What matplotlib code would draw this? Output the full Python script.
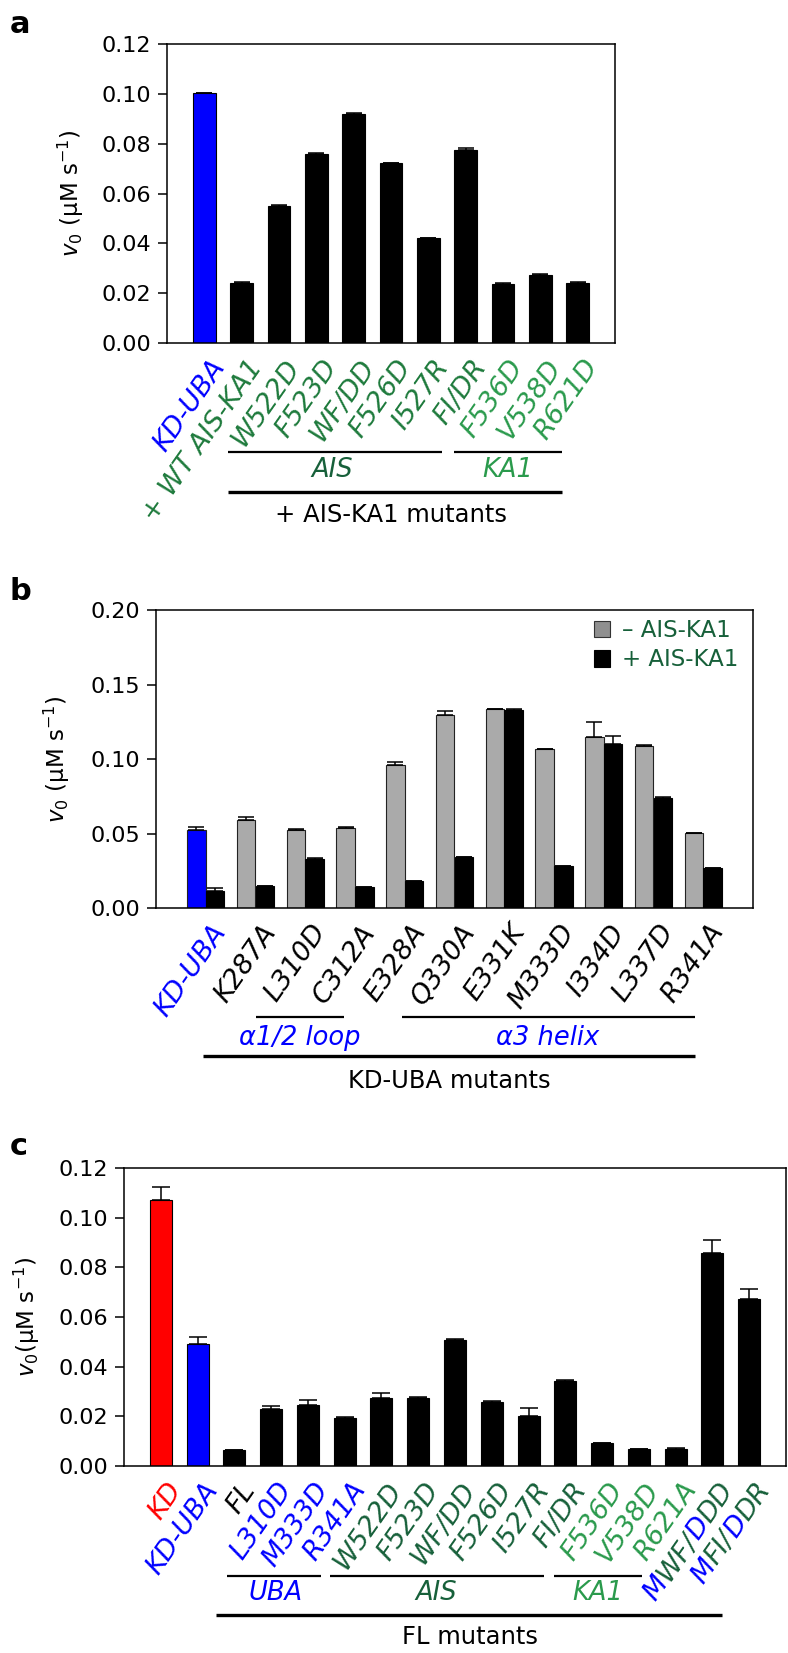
"""Kinase activity bar charts, panels a-c."""
import numpy as np
import matplotlib
matplotlib.use("Agg")
from matplotlib import pyplot as plt
from matplotlib import transforms as mtransforms
from matplotlib.font_manager import FontProperties
from matplotlib.patches import Patch
from matplotlib.ticker import FormatStrFormatter

BLUE = "#0000ff"
RED = "#ff0000"
GREEN_D = "#17603a"
GREEN_A = "#1e7a3c"
GREEN_L = "#2a9a4c"
GRAY = "#aaaaaa"

# ---------------- data ----------------
# panel a
a_labels = [[("KD-UBA", BLUE)], [("+ WT AIS-KA1", GREEN_A)],
            [("W522D", GREEN_A)], [("F523D", GREEN_A)], [("WF/DD", GREEN_A)],
            [("F526D", GREEN_A)], [("I527R", GREEN_A)], [("FI/DR", GREEN_A)],
            [("F536D", GREEN_L)], [("V538D", GREEN_L)], [("R621D", GREEN_L)]]
a_values = [0.1002, 0.0240, 0.0550, 0.0758, 0.0918, 0.0721, 0.0420, 0.0774, 0.0237, 0.0273, 0.0240]
a_errors = [0.0003, 0.0003, 0.0003, 0.0003, 0.0005, 0.0002, 0.0003, 0.0010, 0.0002, 0.0003, 0.0003]
a_colors = [BLUE] + ["black"] * 10

# panel b
b_labels = [[("KD-UBA", BLUE)], [("K287A", "black")], [("L310D", "black")], [("C312A", "black")],
            [("E328A", "black")], [("Q330A", "black")], [("E331K", "black")], [("M333D", "black")],
            [("I334D", "black")], [("L337D", "black")], [("R341A", "black")]]
b_minus = [0.0525, 0.0588, 0.0525, 0.0539, 0.0963, 0.1298, 0.1334, 0.1066, 0.1146, 0.1086, 0.0503]
b_minus_err = [0.0018, 0.0022, 0.0003, 0.0003, 0.0020, 0.0022, 0.0003, 0.0003, 0.0099, 0.0011, 0.0003]
b_plus = [0.0114, 0.0145, 0.0331, 0.0141, 0.0179, 0.0342, 0.1330, 0.0279, 0.1102, 0.0740, 0.0268]
b_plus_err = [0.0018, 0.0002, 0.0002, 0.0002, 0.0003, 0.0002, 0.0003, 0.0002, 0.0054, 0.0002, 0.0003]
b_minus_colors = [BLUE] + [GRAY] * 10
b_legend = ["\u2013 AIS-KA1", "+ AIS-KA1"]

# panel c
c_labels = [[("KD", RED)], [("KD-UBA", BLUE)], [("FL", "black")],
            [("L310D", BLUE)], [("M333D", BLUE)], [("R341A", BLUE)],
            [("W522D", GREEN_D)], [("F523D", GREEN_D)], [("WF/DD", GREEN_D)],
            [("F526D", GREEN_D)], [("I527R", GREEN_D)], [("FI/DR", GREEN_D)],
            [("F536D", GREEN_L)], [("V538D", GREEN_L)], [("R621A", GREEN_L)],
            [("M", BLUE), ("WF/", GREEN_D), ("D", BLUE), ("DD", GREEN_D)],
            [("M", BLUE), ("FI/", GREEN_D), ("D", BLUE), ("DR", GREEN_D)]]
c_values = [0.1071, 0.0490, 0.0063, 0.0228, 0.0247, 0.0195, 0.0273, 0.0275, 0.0506,
            0.0259, 0.0201, 0.0344, 0.0091, 0.0067, 0.0070, 0.0857, 0.0671]
c_errors = [0.0054, 0.0031, 0.0002, 0.0014, 0.0019, 0.0002, 0.0020, 0.0003, 0.0007,
            0.0002, 0.0034, 0.0003, 0.0002, 0.0002, 0.0002, 0.0053, 0.0041]
c_colors = [RED, BLUE] + ["black"] * 15

# ---------------- figure ----------------
W, H = 788, 1653
fig = plt.figure(figsize=(W / 100, H / 100), dpi=100)

LABEL_SIZE = 19.5
GROUP_SIZE = 18.5
TITLE_SIZE = 17.5


def make_axes(left, right, top, bottom):
    return fig.add_axes([left / W, 1 - bottom / H, (right - left) / W, (bottom - top) / H])


def style_axes(ax, ymax, step, n, label, label_x):
    ax.set_ylim(0, ymax)
    ax.set_xlim(-1, n)
    ax.set_yticks(np.arange(0, ymax + step / 2, step))
    ax.yaxis.set_major_formatter(FormatStrFormatter("%.2f"))
    ax.set_xticks([])
    ax.tick_params(axis="y", direction="out", length=6.5, width=1.1, labelsize=16, pad=5)
    for sp in ax.spines.values():
        sp.set_linewidth(1.1)
    ax.set_ylabel(label, fontsize=16.5)
    ax.yaxis.set_label_coords(label_x, 0.5)


def rotated_label(ax, x, chunks, size=LABEL_SIZE, angle=55, dx=5, dy=-12):
    renderer = fig.canvas.get_renderer()
    prop = FontProperties(size=size, style="italic")
    widths = [renderer.get_text_width_height_descent(t, prop, ismath=False)[0] for t, _ in chunks]
    total = sum(widths)
    c, s = np.cos(np.radians(angle)), np.sin(np.radians(angle))
    base = mtransforms.blended_transform_factory(ax.transData, ax.transAxes)
    end = 0
    for (t, col), w in zip(chunks, widths):
        end += w
        back = total - end
        tr = mtransforms.offset_copy(base, fig=fig, x=dx - back * c, y=dy - back * s, units="dots")
        ax.text(x, 0, t, transform=tr, rotation=angle, rotation_mode="anchor",
                ha="right", va="top", color=col, fontproperties=prop, clip_on=False)


def bracket(ax, x0, x1, y, lw=1.6):
    tr = mtransforms.blended_transform_factory(ax.transData, ax.transAxes)
    ax.plot([x0, x1], [y, y], transform=tr, color="black", lw=lw, clip_on=False,
            solid_capstyle="butt")


def group_text(ax, x, y, s, color, italic=True, size=GROUP_SIZE):
    tr = mtransforms.blended_transform_factory(ax.transData, ax.transAxes)
    ax.text(x, y, s, transform=tr, ha="center", va="center", color=color, fontsize=size,
            style="italic" if italic else "normal", clip_on=False)


ylab = r"$v_0$ (μM s$^{-1}$)"

# ---- panel a ----
ax_a = make_axes(167, 615, 44, 343)
xa = np.arange(len(a_values))
ax_a.bar(xa, a_values, width=0.61, color=a_colors, edgecolor="black", linewidth=0.8, zorder=2)
ax_a.errorbar(xa, a_values, yerr=[np.zeros(len(a_values)), a_errors], fmt="none", ecolor="black",
              elinewidth=1.1, capsize=6, capthick=1.1, zorder=3)
style_axes(ax_a, 0.12, 0.02, len(a_values), ylab, -0.181)
for i, chunks in enumerate(a_labels):
    rotated_label(ax_a, i, chunks)
bracket(ax_a, 0.63, 6.37, -0.366)
bracket(ax_a, 6.69, 9.58, -0.366)
group_text(ax_a, 3.42, -0.425, "AIS", GREEN_D)
group_text(ax_a, 8.14, -0.425, "KA1", GREEN_L)
bracket(ax_a, 0.63, 9.58, -0.497, lw=2.4)
group_text(ax_a, 5.0, -0.575, "+ AIS-KA1 mutants", "black", italic=False, size=TITLE_SIZE)
ax_a.set_xlim(-1, len(a_values))
ax_a.set_ylim(0, 0.12)

# ---- panel b ----
ax_b = make_axes(156, 753, 610, 908)
xb = np.arange(len(b_minus))
off = 0.19
ax_b.bar(xb - off, b_minus, width=0.37, color=b_minus_colors, edgecolor="#222222", linewidth=0.8, zorder=2)
ax_b.bar(xb + off, b_plus, width=0.37, color="black", edgecolor="black", linewidth=0.8, zorder=2)
ax_b.errorbar(xb - off, b_minus, yerr=[np.zeros(len(b_minus)), b_minus_err], fmt="none", ecolor="black",
              elinewidth=1.1, capsize=5.5, capthick=1.1, zorder=3)
ax_b.errorbar(xb + off, b_plus, yerr=[np.zeros(len(b_plus)), b_plus_err], fmt="none", ecolor="black",
              elinewidth=1.1, capsize=5.5, capthick=1.1, zorder=3)
style_axes(ax_b, 0.20, 0.05, len(b_minus), ylab, -0.141)
handles = [Patch(facecolor="#8f8f8f", edgecolor="#333333", linewidth=0.8),
           Patch(facecolor="black", edgecolor="black", linewidth=0.8)]
ax_b.legend(handles, b_legend, loc="upper right", bbox_to_anchor=(1 - 15 / 597, 1 - 9 / 298),
            frameon=False, fontsize=16.5, labelcolor=GREEN_D, handlelength=0.72, handleheight=0.72,
            handletextpad=0.5, borderpad=0, borderaxespad=0, labelspacing=0.28)
for i, chunks in enumerate(b_labels):
    rotated_label(ax_b, i, chunks)
bracket(ax_b, 1.01, 2.77, -0.365)
bracket(ax_b, 3.94, 9.84, -0.365)
group_text(ax_b, 1.89, -0.436, "α1/2 loop", BLUE)
group_text(ax_b, 6.87, -0.436, "α3 helix", BLUE)
bracket(ax_b, -0.055, 9.84, -0.497, lw=2.4)
group_text(ax_b, 4.89, -0.58, "KD-UBA mutants", "black", italic=False, size=TITLE_SIZE)
ax_b.set_xlim(-1, len(b_minus))
ax_b.set_ylim(0, 0.20)

# ---- panel c ----
ax_c = make_axes(124, 786, 1168, 1466)
xc = np.arange(len(c_values))
ax_c.bar(xc, c_values, width=0.6, color=c_colors, edgecolor="black", linewidth=0.8, zorder=2)
ax_c.errorbar(xc, c_values, yerr=[np.zeros(len(c_values)), c_errors], fmt="none", ecolor="black",
              elinewidth=1.1, capsize=6.5, capthick=1.1, zorder=3)
style_axes(ax_c, 0.12, 0.02, len(c_values), r"$v_0$(μM s$^{-1}$)", -0.124)
for i, chunks in enumerate(c_labels):
    rotated_label(ax_c, i, chunks)
bracket(ax_c, 1.79, 4.37, -0.369)
bracket(ax_c, 4.61, 10.42, -0.369)
bracket(ax_c, 10.69, 13.08, -0.369)
group_text(ax_c, 3.11, -0.426, "UBA", BLUE)
group_text(ax_c, 7.50, -0.426, "AIS", GREEN_D)
group_text(ax_c, 11.88, -0.426, "KA1", GREEN_L)
bracket(ax_c, 1.50, 15.25, -0.5, lw=2.4)
group_text(ax_c, 8.40, -0.573, "FL mutants", "black", italic=False, size=TITLE_SIZE)
ax_c.set_xlim(-1, len(c_values))
ax_c.set_ylim(0, 0.12)

# panel letters
for letter, base_y in [("a", 33), ("b", 600), ("c", 1155)]:
    fig.text(10 / W, 1 - base_y / H, letter, fontsize=22, fontweight="bold", va="baseline")

fig.savefig("out.png", dpi=100)
